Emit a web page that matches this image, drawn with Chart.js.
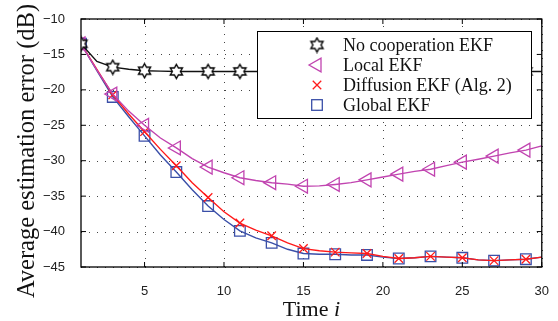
<!DOCTYPE html>
<html>
<head>
<meta charset="utf-8">
<script src="https://cdn.jsdelivr.net/npm/chart.js@4/dist/chart.umd.min.js"></script>
<style>
  html, body { margin: 0; padding: 0; background: #fff; }
  #wrap { width: 558px; height: 321px; position: relative; }
</style>
</head>
<body>
<div id="wrap"><canvas id="c" width="558" height="321"></canvas></div>
<script>
// time axis and tick labels
var time = [1, 2, 3, 4, 5, 6, 7, 8, 9, 10, 11, 12, 13, 14, 15, 16, 17, 18, 19, 20, 21, 22, 23, 24, 25, 26, 27, 28, 29, 30];
var xTicks = [5, 10, 15, 20, 25, 30];
var yTicks = [-10, -15, -20, -25, -30, -35, -40, -45];

// average estimation error in dB
var noCoop = [-13.5, -16.0, -16.8, -17.1, -17.3, -17.35, -17.4, -17.4, -17.4, -17.4, -17.4, -17.4, -17.4, -17.4, -17.4,
              -17.4, -17.4, -17.4, -17.4, -17.4, -17.4, -17.4, -17.4, -17.4, -17.4, -17.4, -17.4, -17.4, -17.4, -17.4];
var localEkf = [-13.5, -17.2, -20.6, -23.0, -25.0, -26.8, -28.2, -29.7, -30.9, -31.7, -32.4, -32.8, -33.1, -33.3, -33.6,
                -33.55, -33.35, -33.1, -32.7, -32.3, -31.9, -31.5, -31.2, -30.7, -30.2, -29.8, -29.35, -28.9, -28.5, -27.9];
var diffusionEkf = [-13.5, -17.1, -20.7, -23.4, -25.9, -28.4, -30.7, -33.1, -35.2, -37.2, -38.8, -39.8, -40.6, -41.6, -42.4,
                    -42.7, -42.9, -43.0, -43.1, -43.5, -43.8, -43.7, -43.5, -43.6, -43.7, -44.0, -44.1, -44.0, -43.9, -43.6];
var globalEkf = [-13.5, -17.3, -21.0, -23.8, -26.5, -29.2, -31.6, -34.1, -36.4, -38.3, -39.9, -40.9, -41.6, -42.5, -43.1,
                 -43.2, -43.2, -43.3, -43.3, -43.6, -43.8, -43.7, -43.5, -43.6, -43.7, -44.0, -44.1, -44.0, -43.9, -43.6];

var labels = ['No cooperation EKF', 'Local EKF', 'Diffusion EKF (Alg. 2)', 'Global EKF'];
var colors = ['#111111', '#c144b0', '#ff1a1a', '#3a4fa8'];

// hexagram marker (outline of six pointed star)
function hexagram(color) {
    var cv = document.createElement('canvas');
    cv.width = 17; cv.height = 17;
    var g = cv.getContext('2d');
    var R = 7, r = R / Math.sqrt(3), cx = 8.5, cy = 8.5;
    g.beginPath();
    for (var k = 0; k < 12; k++) {
        var a = (-90 + k * 30) * Math.PI / 180;
        var rr = k % 2 === 0 ? R : r;
        var px = cx + rr * Math.cos(a), py = cy + rr * Math.sin(a);
        if (k === 0) g.moveTo(px, py); else g.lineTo(px, py);
    }
    g.closePath();
    g.fillStyle = '#fff';
    g.fill();
    g.strokeStyle = color;
    g.lineWidth = 1.4;
    g.stroke();
    return cv;
}
var star = hexagram('#000');

function toXY(arr) {
    return arr.map(function (v, i) { return { x: time[i], y: v }; });
}
function oddOnly(r) {
    return function (c) { return c.dataIndex % 2 === 0 ? r : 0; };
}

var styles = [
    { pointStyle: star, radius: 8, rotation: 0 },
    { pointStyle: 'triangle', radius: 8, rotation: -90 },
    { pointStyle: 'crossRot', radius: 6, rotation: 0 },
    { pointStyle: 'rect', radius: 7.5, rotation: 0 }
];
var series = [noCoop, localEkf, diffusionEkf, globalEkf];

var datasets = series.map(function (s, i) {
    return {
        label: labels[i],
        data: toXY(s),
        borderColor: colors[i],
        backgroundColor: 'rgba(0,0,0,0)',
        borderWidth: 1.4,
        tension: 0,
        pointStyle: styles[i].pointStyle,
        pointRadius: oddOnly(styles[i].radius),
        pointRotation: styles[i].rotation,
        pointBorderColor: colors[i],
        pointBackgroundColor: 'rgba(0,0,0,0)',
        pointBorderWidth: 1.3,
        pointHoverRadius: 0
    };
});

function drawMarker(ctx, i, x, y) {
    var st = styles[i];
    ctx.save();
    ctx.strokeStyle = colors[i];
    ctx.lineWidth = 1.3;
    ctx.beginPath();
    if (i === 0) {
        ctx.drawImage(star, x - 8.5, y - 8.5);
    } else if (i === 1) {
        var r = st.radius;
        var e = r * Math.sqrt(3);
        ctx.moveTo(x - r, y);
        ctx.lineTo(x + r / 2, y - e / 2);
        ctx.lineTo(x + r / 2, y + e / 2);
        ctx.closePath();
        ctx.stroke();
    } else if (i === 2) {
        var d = st.radius * Math.cos(Math.PI / 4);
        ctx.moveTo(x - d, y - d); ctx.lineTo(x + d, y + d);
        ctx.moveTo(x + d, y - d); ctx.lineTo(x - d, y + d);
        ctx.stroke();
    } else {
        var s = st.radius / Math.SQRT2;
        ctx.strokeRect(x - s, y - s, 2 * s, 2 * s);
    }
    ctx.restore();
}

// dotted grid, drawn under the lines
var gridPlugin = {
    id: 'dotgrid',
    beforeDatasetsDraw: function (chart) {
        var ctx = chart.ctx, a = chart.chartArea;
        var xs = chart.scales.x, ys = chart.scales.y;
        ctx.save();
        ctx.strokeStyle = '#444';
        ctx.lineWidth = 1;
        ctx.setLineDash([1, 7]);
        ctx.beginPath();
        xTicks.forEach(function (v) {
            var px = Math.round(xs.getPixelForValue(v)) + 0.5;
            ctx.moveTo(px, a.bottom); ctx.lineTo(px, a.top);
        });
        yTicks.forEach(function (v) {
            var py = Math.round(ys.getPixelForValue(v)) + 0.5;
            ctx.moveTo(a.left, py); ctx.lineTo(a.right, py);
        });
        ctx.stroke();
        ctx.restore();
    }
};

var framePlugin = {
    id: 'frame',
    afterDatasetsDraw: function (chart) {
        var ctx = chart.ctx, a = chart.chartArea;
        var xs = chart.scales.x, ys = chart.scales.y;
        ctx.save();
        // legend box
        var bx = 257, by = 31, bw = 274, bh = 87;
        ctx.fillStyle = '#fff';
        ctx.fillRect(bx, by, bw, bh);
        ctx.strokeStyle = '#000';
        ctx.lineWidth = 1;
        ctx.strokeRect(bx + 0.5, by + 0.5, bw, bh);
        ctx.font = '18px "Liberation Serif", "Times New Roman", serif';
        ctx.fillStyle = '#111';
        ctx.textBaseline = 'middle';
        var rows = [45, 65, 85, 105];
        for (var i = 0; i < 4; i++) {
            drawMarker(ctx, i, 317, rows[i]);
            ctx.fillText(labels[i], 343, rows[i] + 1);
        }
        // axes box with inward ticks
        ctx.strokeStyle = '#000';
        ctx.lineWidth = 1.3;
        ctx.strokeRect(a.left, a.top, a.right - a.left, a.bottom - a.top);
        ctx.lineWidth = 1;
        ctx.beginPath();
        xTicks.forEach(function (v) {
            var px = xs.getPixelForValue(v);
            ctx.moveTo(px, a.bottom); ctx.lineTo(px, a.bottom - 5);
            ctx.moveTo(px, a.top); ctx.lineTo(px, a.top + 5);
        });
        yTicks.forEach(function (v) {
            var py = ys.getPixelForValue(v);
            ctx.moveTo(a.left, py); ctx.lineTo(a.left + 5, py);
            ctx.moveTo(a.right, py); ctx.lineTo(a.right - 5, py);
        });
        ctx.stroke();
        // axis titles
        ctx.fillStyle = '#111';
        ctx.textBaseline = 'alphabetic';
        var cx = (a.left + a.right) / 2;
        ctx.font = '22px "Liberation Serif", serif';
        var w1 = ctx.measureText('Time ').width;
        ctx.font = 'italic 22px "Liberation Serif", serif';
        var w2 = ctx.measureText('i').width;
        var start = cx - (w1 + w2) / 2;
        ctx.textAlign = 'left';
        ctx.font = '22px "Liberation Serif", serif';
        ctx.fillText('Time ', start, 316);
        ctx.font = 'italic 22px "Liberation Serif", serif';
        ctx.fillText('i', start + w1, 316);
        ctx.save();
        ctx.translate(34, 151);
        ctx.rotate(-Math.PI / 2);
        ctx.textAlign = 'center';
        ctx.font = '24.5px "Liberation Serif", serif';
        ctx.fillText('Average estimation error (dB)', 0, 0);
        ctx.restore();
        ctx.restore();
    }
};

new Chart(document.getElementById('c'), {
    type: 'line',
    data: { datasets: datasets },
    options: {
        responsive: false,
        animation: false,
        events: [],
        layout: { padding: { left: 0, right: 16, top: 19, bottom: 0 } },
        plugins: { legend: { display: false }, tooltip: { enabled: false } },
        scales: {
            x: {
                type: 'linear',
                min: 1,
                max: 30,
                afterBuildTicks: function (scale) {
                    scale.ticks = xTicks.map(function (v) { return { value: v }; });
                },
                afterFit: function (scale) { scale.height = 54; },
                border: { display: false },
                grid: { display: false },
                ticks: {
                    padding: 9,
                    color: '#222',
                    font: { family: '"Liberation Sans", Arial, sans-serif', size: 13 }
                }
            },
            y: {
                min: -45,
                max: -10,
                afterBuildTicks: function (scale) {
                    scale.ticks = yTicks.map(function (v) { return { value: v }; });
                },
                afterFit: function (scale) { scale.width = 81; },
                border: { display: false },
                grid: { display: false },
                ticks: {
                    padding: 8,
                    color: '#222',
                    font: { family: '"Liberation Sans", Arial, sans-serif', size: 13 },
                    callback: function (v) { return '\u2212' + Math.abs(v); }
                }
            }
        }
    },
    plugins: [gridPlugin, framePlugin]
});
</script>
</body>
</html>
